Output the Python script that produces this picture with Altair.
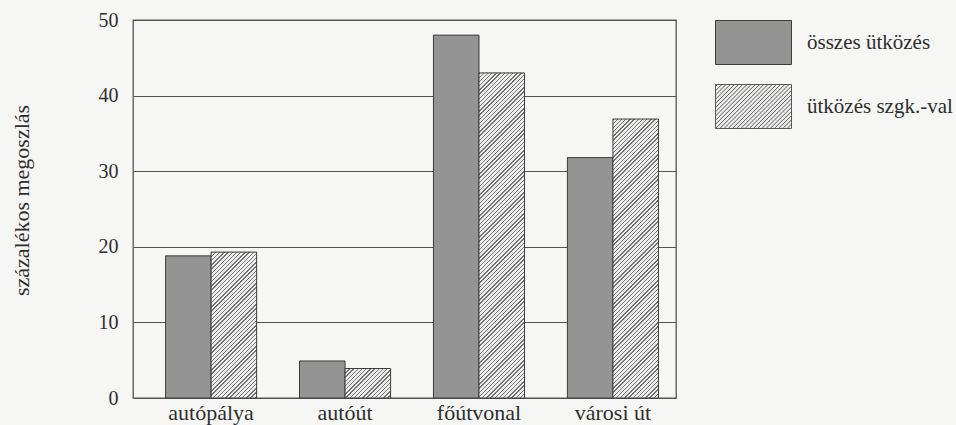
import altair as alt
import pandas as pd

# ---------------- data ----------------
categories = ["autópálya", "autóút", "főútvonal", "városi út"]
series = ["összes ütközés", "ütközés szgk.-val"]
total_values = [18.8, 4.9, 48.0, 31.8]
car_values = [19.3, 3.9, 43.0, 36.9]
y_ticks = [0, 10, 20, 30, 40, 50]
y_title = "százalékos megoszlás"

rows = []
for c, a, b in zip(categories, total_values, car_values):
    rows.append({"cat": c, "series": series[0], "value": a})
    rows.append({"cat": c, "series": series[1], "value": b})
df = pd.DataFrame(rows)

# ---------------- layout / style ----------------
W, H = 543, 378
Y_MAX = 50
P_IN, P_OUT, ALIGN = 0.32, 0.187, 0.65
FONT = "Liberation Serif"
TEXT = "#2e2e2e"
DARK = "#949494"
LIGHT = "#eeeeee"
HATCH = "#747474"
EDGE = "#3c3c3c"
BG = "#f6f6f4"

step = W / (len(categories) - P_IN + 2 * P_OUT)
sub_w = step * (1 - P_IN) / 2


def hatch_gradient(value, period=4.2, thick=1.4):
    """Diagonal '/' stripes as a linear gradient in bounding-box units."""
    h = max(value * H / Y_MAX, 1.0)
    w = sub_w
    c = (1 / h + 1 / w) / (1 / h ** 2 + 1 / w ** 2)
    q = period / (w + h)
    l = thick / (w + h)
    stops = []
    a = 0.0
    while a < 1:
        stops += [
            alt.GradientStop(color=HATCH, offset=round(a, 6)),
            alt.GradientStop(color=HATCH, offset=round(min(a + l, 1), 6)),
            alt.GradientStop(color=LIGHT, offset=round(min(a + l, 1), 6)),
            alt.GradientStop(color=LIGHT, offset=round(min(a + q, 1), 6)),
        ]
        a += q
    return alt.LinearGradient(gradient="linear", stops=stops,
                              x1=0, y1=0, x2=c / h, y2=c / w)


# legend symbols (custom paths)
hh = 22 / 38
rect_path = f"M-1,{-hh:.3f}H1V{hh:.3f}H-1Z"
p = 4.2 / 38
k = -(1 + hh) + p / 2
segs = []
while k < 1 + hh:
    x0 = max(-1, k - hh)
    x1 = min(1, k + hh)
    if x1 > x0:
        segs.append(f"M{x0:.3f},{k - x0:.3f}L{x1:.3f},{k - x1:.3f}")
    k += p
hatch_path = rect_path + "".join(segs)

# ---------------- encodings ----------------
x_enc = alt.X(
    "cat:N",
    scale=alt.Scale(domain=categories, paddingInner=P_IN, paddingOuter=P_OUT, align=ALIGN),
    axis=alt.Axis(title=None, labelAngle=0, domain=False, ticks=False, tickSize=0,
                  labelPadding=21, labelBaseline="alphabetic", labelFont=FONT,
                  labelFontSize=22, labelColor=TEXT, grid=False),
)
xo_enc = alt.XOffset("series:N", scale=alt.Scale(domain=series, paddingInner=0, paddingOuter=0))
y_enc = alt.Y(
    "value:Q",
    scale=alt.Scale(domain=[0, Y_MAX], nice=False, zero=True),
    axis=alt.Axis(values=y_ticks, title=y_title, domain=False, ticks=False, tickSize=0,
                  labelPadding=15, labelFont=FONT, labelFontSize=20, labelColor=TEXT,
                  grid=True, gridColor="#555555", gridWidth=1, gridOpacity=1,
                  titleFont=FONT, titleFontSize=22, titleFontWeight="normal",
                  titleColor=TEXT, titleAngle=270, titleAlign="center",
                  titleBaseline="middle", titleX=-112, titleY=180),
)

base = alt.Chart(df)

dark_bars = base.transform_filter(alt.datum.series == series[0]).mark_bar(
    fill=DARK, stroke=EDGE, strokeWidth=1
).encode(x=x_enc, xOffset=xo_enc, y=y_enc)

layers = [dark_bars]
for cat, v in zip(categories, car_values):
    layers.append(
        base.transform_filter(
            (alt.datum.series == series[1]) & (alt.datum.cat == cat)
        ).mark_bar(fill=hatch_gradient(v), stroke=EDGE, strokeWidth=1)
        .encode(x=x_enc, xOffset=xo_enc, y=y_enc)
    )

legend = alt.Legend(
    title=None, orient="none", legendX=582, legendY=-16,
    symbolSize=5776, symbolStrokeColor=EDGE, symbolStrokeWidth=1,
    symbolOpacity=1, labelFont=FONT, labelFontSize=21, labelColor=TEXT,
    labelOffset=15, rowPadding=1, padding=0, labelLimit=400,
)

legend_layer = base.mark_point(filled=True, opacity=0, strokeWidth=1).encode(
    x=x_enc, xOffset=xo_enc, y=y_enc,
    fill=alt.Fill("series:N", scale=alt.Scale(domain=series, range=[DARK, LIGHT]), legend=legend),
    stroke=alt.Stroke("series:N", scale=alt.Scale(domain=series, range=[EDGE, "#5a5a5a"]), legend=legend),
    shape=alt.Shape("series:N", scale=alt.Scale(domain=series, range=[rect_path, hatch_path]),
                    legend=legend),
)
layers.append(legend_layer)

chart = alt.layer(*layers).properties(
    width=W, height=H,
    padding={"left": 133, "top": 20, "right": 280, "bottom": 27},
    autosize=alt.AutoSizeParams(type="none"),
    background=BG,
).configure_view(stroke="#555555", strokeWidth=1.3)

chart.save("out.html", embed_options={"renderer": "svg", "actions": False})
